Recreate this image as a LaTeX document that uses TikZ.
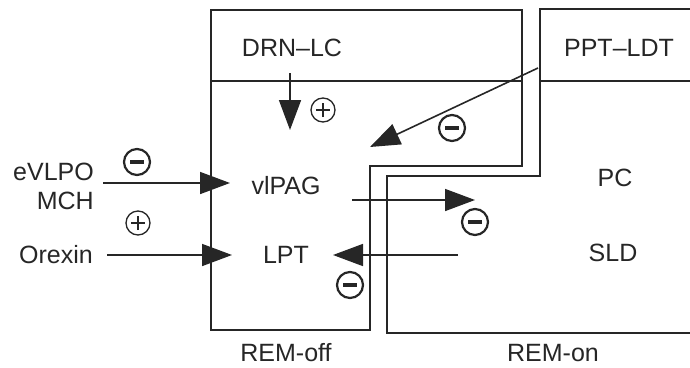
\documentclass[tikz,border=0pt]{standalone}
\usepackage{fontspec}
\setmainfont{Liberation Sans}
\usetikzlibrary{arrows.meta}
\begin{document}
\begin{tikzpicture}[x=1pt,y=-1pt,
  lbl/.style={inner sep=0pt, font=\fontsize{25}{29}\selectfont, text=black!85},
  box/.style={line width=1.8pt, draw=black!85},
  arr/.style={line width=1.6pt, draw=black!85, -{Triangle[length=30pt,width=22pt]}},
  sgnplus/.style={circle, draw=black!85, line width=1.3pt, minimum size=24pt, inner sep=0pt,
    path picture={\draw[line width=1.3pt] ([xshift=-7pt]path picture bounding box.center) -- ([xshift=7pt]path picture bounding box.center);
                  \draw[line width=1.3pt] ([yshift=-7pt]path picture bounding box.center) -- ([yshift=7pt]path picture bounding box.center);}},
  sgnminus/.style={circle, draw=black!85, line width=2.2pt, minimum size=26pt, inner sep=0pt,
    path picture={\draw[line width=3.5pt] ([xshift=-7pt]path picture bounding box.center) -- ([xshift=7pt]path picture bounding box.center);}}
]
\useasboundingbox (0,0) rectangle (690,367);
% boxes
\draw[box] (211,10) -- (522,10) -- (522,166) -- (370,166) -- (370,330) -- (211,330) -- cycle;
\draw[box] (211,81) -- (522,81);
\draw[box] (690,9) -- (540,9) -- (540,176) -- (387,176) -- (387,333) -- (690,333);
\draw[box] (540,81) -- (690,81);
% labels
\node[lbl] (drn) at (292,48) {DRN--LC};
\node[lbl] (ppt) at (619,48) {PPT--LDT};
\node[lbl] (vlpag) at (286,186) {vlPAG};
\node[lbl] (lpt) at (286,255) {LPT};
\node[lbl] (pc) at (615,178) {PC};
\node[lbl] (sld) at (613,253) {SLD};
\node[lbl, align=right, anchor=east] (evlpo) at (94,186) {eVLPO\\MCH};
\node[lbl, anchor=east] (orexin) at (93,255) {Orexin};
\node[lbl] (remoff) at (286,353) {REM-off};
\node[lbl] (remon) at (553,353) {REM-on};
% arrow endpoints
\coordinate (a1s) at (290,73);   \coordinate (a1e) at (290,130);
\coordinate (a2s) at (538,68);   \coordinate (a2e) at (370,147);
\coordinate (a3s) at (103,183);  \coordinate (a3e) at (230,183);
\coordinate (a4s) at (107,255);  \coordinate (a4e) at (232,255);
\coordinate (a5s) at (352,200);  \coordinate (a5e) at (475,200);
\coordinate (a6s) at (458,255);  \coordinate (a6e) at (333,255);
\draw[arr] (a1s) -- (a1e);
\draw[arr] (a2s) -- (a2e);
\draw[arr] (a3s) -- (a3e);
\draw[arr] (a4s) -- (a4e);
\draw[arr] (a5s) -- (a5e);
\draw[arr] (a6s) -- (a6e);
% signs
\node[sgnplus] (s1) at (323,110) {};
\node[sgnminus] (s2) at (452,128) {};
\node[sgnminus] (s3) at (137,162) {};
\node[sgnplus] (s4) at (138,223) {};
\node[sgnminus] (s5) at (475,222) {};
\node[sgnminus] (s6) at (350,285) {};
\end{tikzpicture}
\end{document}
